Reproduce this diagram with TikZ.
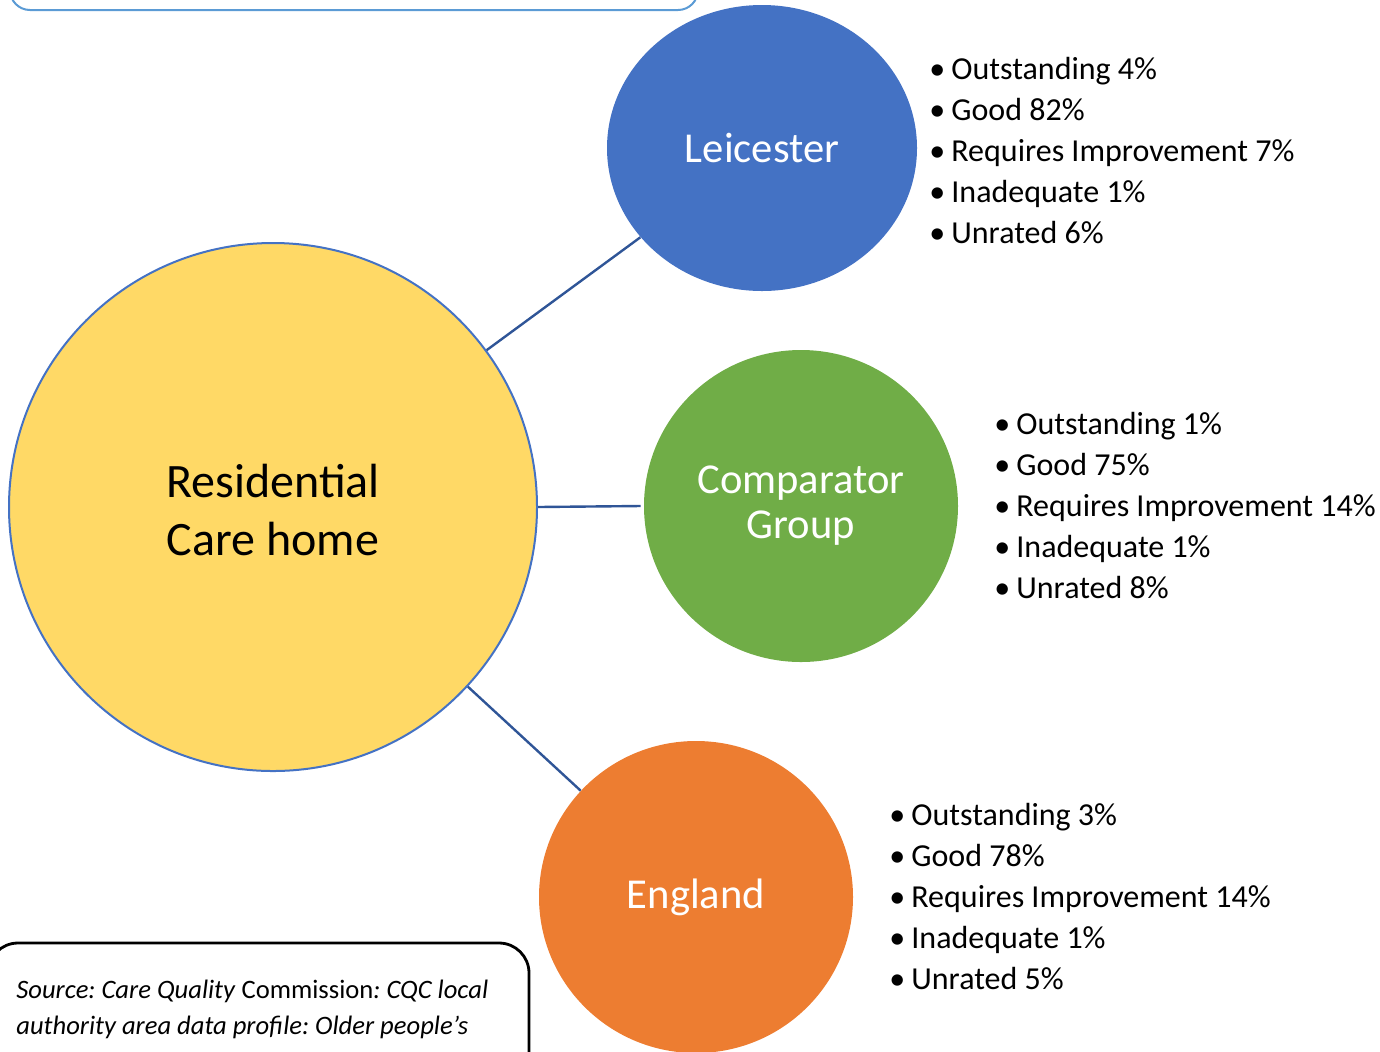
\documentclass[tikz,border=0pt]{standalone}
\usepackage{fontspec}
\setmainfont{Carlito}
\usetikzlibrary{shapes.geometric}
\definecolor{hubyellow}{HTML}{FFD966}
\definecolor{edgeblue}{HTML}{4472C4}
\definecolor{linkblue}{HTML}{2F5597}
\definecolor{boxblue}{HTML}{5B9BD5}
\definecolor{leiblue}{HTML}{4472C4}
\definecolor{cmpgreen}{HTML}{70AD47}
\definecolor{engorange}{HTML}{ED7D31}
\frenchspacing
\tikzset{
    hub/.style={circle, draw=edgeblue, line width=1pt, fill=hubyellow,
        minimum size=264pt, inner sep=0pt, align=center,
        font=\fontsize{24}{29}\selectfont},
    area/.style={ellipse, minimum width=157pt, minimum height=156pt,
        inner sep=0pt, align=center, text=white,
        font=\fontsize{21.3}{22.5}\selectfont},
    link/.style={draw=linkblue, line width=1.2pt},
    ratings/.style={anchor=west, align=left, inner sep=0pt,
        font=\fontsize{16}{20.5}\selectfont},
}
\newcommand{\rbul}{\makebox[11pt][l]{\textbullet}}

\begin{document}
\begin{tikzpicture}[x=0.5pt,y=-0.5pt]
\useasboundingbox (0,0) rectangle (1380,1051);
\clip (0,0) rectangle (1380,1051);
% frames cut off by the page edge
\draw[boxblue, line width=1pt, rounded corners=10pt] (10,-60) rectangle (698,10);
\draw[black, line width=1.4pt, rounded corners=15pt] (-12,943) rectangle (529,1100);

\node[hub] (res) at (273,507) {\rule{0pt}{20pt}Residential\\Care home};
\node[area, fill=leiblue, minimum width=155pt, minimum height=143pt] (lei) at (762,148) {Leicester};
\node[area, fill=cmpgreen] (cmp) at (801,506) {Comparator\\Group};
\node[area, fill=engorange] (eng) at (696,897) {England};

\draw[link] (res) -- (lei);
\draw[link] (res.east) -- ([xshift=-1.5pt]cmp.west);
\draw[link] (res) -- (eng);

\node[ratings] (leilist) at (929,151) {\rbul Outstanding 4\%\\ \rbul Good 82\%\\ \rbul Requires Improvement 7\%\\ \rbul Inadequate 1\%\\ \rbul Unrated 6\%};
\node[ratings] (cmplist) at (994,506) {\rbul Outstanding 1\%\\ \rbul Good 75\%\\ \rbul Requires Improvement 14\%\\ \rbul Inadequate 1\%\\ \rbul Unrated 8\%};
\node[ratings] (englist) at (889,897) {\rbul Outstanding 3\%\\ \rbul Good 78\%\\ \rbul Requires Improvement 14\%\\ \rbul Inadequate 1\%\\ \rbul Unrated 5\%};

\node[anchor=north west, align=left, inner sep=0pt, font=\fontsize{13.3}{18}\selectfont] (src) at (16,980)
    {\textit{Source: Care Quality} Commission\textit{: CQC local}\\ \textit{authority area data profile: Older people’s}};
\end{tikzpicture}
\end{document}
